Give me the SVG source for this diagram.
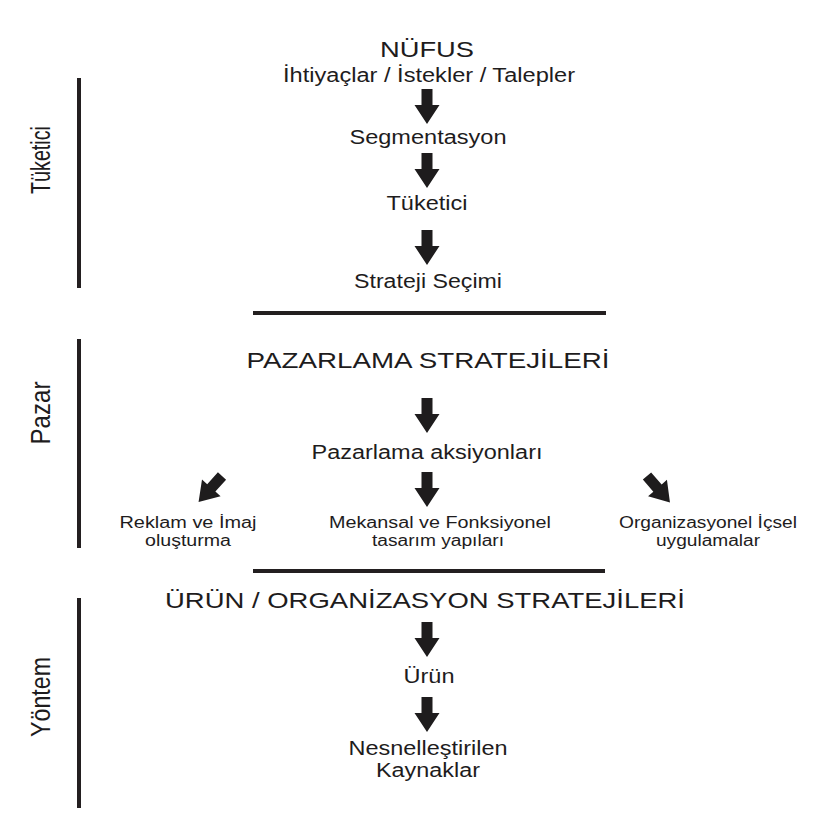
<svg xmlns="http://www.w3.org/2000/svg" xmlns:xlink="http://www.w3.org/1999/xlink" width="838" height="835" viewBox="0 0 838 835">
<style>
.t{font-family:"Liberation Sans",Arial,sans-serif;fill:#1e1c1d;text-anchor:middle}
.h{font-size:22.5px}
.b{font-size:19.5px}
.s{font-size:16px}
.v{font-size:27px}
.bar{stroke:#231f20;stroke-width:4;fill:none}
.ar{fill:#1e1c1d}
</style>
<defs>
<path id="arr" d="M-5.5,0 H5.5 V16 H12.5 L0,35 L-12.5,16 H-5.5 Z"/>
</defs>
<rect width="838" height="835" fill="#ffffff"/>
<g id="section-bars">
<line class="bar" x1="79" y1="78" x2="79" y2="288"/>
<line class="bar" x1="79" y1="339" x2="79" y2="548"/>
<line class="bar" x1="79" y1="598" x2="79" y2="808"/>
<line class="bar" x1="253" y1="313" x2="606" y2="313"/>
<line class="bar" x1="253" y1="571" x2="605" y2="571"/>
</g>
<g id="label-tuketici"><text class="t v" transform="translate(50,160) rotate(-90)" textLength="68" lengthAdjust="spacingAndGlyphs">Tüketici</text></g>
<g id="label-pazar"><text class="t v" transform="translate(50,413) rotate(-90)" textLength="63" lengthAdjust="spacingAndGlyphs">Pazar</text></g>
<g id="label-yontem"><text class="t v" transform="translate(50,697) rotate(-90)" textLength="80" lengthAdjust="spacingAndGlyphs">Yöntem</text></g>
<g id="n-nufus">
<text class="t h" x="427" y="57" textLength="94" lengthAdjust="spacingAndGlyphs">NÜFUS</text>
<text class="t b" x="429" y="82" textLength="292" lengthAdjust="spacingAndGlyphs">İhtiyaçlar / İstekler / Talepler</text>
</g>
<g id="n-segmentasyon"><text class="t b" x="428" y="144" textLength="157" lengthAdjust="spacingAndGlyphs">Segmentasyon</text></g>
<g id="n-tuketici"><text class="t b" x="427" y="210" textLength="81" lengthAdjust="spacingAndGlyphs">Tüketici</text></g>
<g id="n-strateji"><text class="t b" x="428" y="288" textLength="148" lengthAdjust="spacingAndGlyphs">Strateji Seçimi</text></g>
<g id="n-pazarlama-stratejileri"><text class="t h" x="428" y="368" textLength="363" lengthAdjust="spacingAndGlyphs">PAZARLAMA STRATEJİLERİ</text></g>
<g id="n-pazarlama-aksiyonlari"><text class="t b" x="427" y="459" textLength="231" lengthAdjust="spacingAndGlyphs">Pazarlama aksiyonları</text></g>
<g id="n-reklam">
<text class="t s" x="188" y="528" textLength="137" lengthAdjust="spacingAndGlyphs">Reklam ve İmaj</text>
<text class="t s" x="188" y="546" textLength="86" lengthAdjust="spacingAndGlyphs">oluşturma</text>
</g>
<g id="n-mekansal">
<text class="t s" x="440" y="528" textLength="222" lengthAdjust="spacingAndGlyphs">Mekansal ve Fonksiyonel</text>
<text class="t s" x="438" y="546" textLength="132" lengthAdjust="spacingAndGlyphs">tasarım yapıları</text>
</g>
<g id="n-organizasyonel">
<text class="t s" x="708" y="528" textLength="178" lengthAdjust="spacingAndGlyphs">Organizasyonel İçsel</text>
<text class="t s" x="708" y="546" textLength="104" lengthAdjust="spacingAndGlyphs">uygulamalar</text>
</g>
<g id="n-urun-org"><text class="t h" x="425" y="608" textLength="520" lengthAdjust="spacingAndGlyphs">ÜRÜN / ORGANİZASYON STRATEJİLERİ</text></g>
<g id="n-urun"><text class="t b" x="429" y="683" textLength="51" lengthAdjust="spacingAndGlyphs">Ürün</text></g>
<g id="n-nesnel">
<text class="t b" x="428" y="755" textLength="159" lengthAdjust="spacingAndGlyphs">Nesnelleştirilen</text>
<text class="t b" x="428" y="777" textLength="104" lengthAdjust="spacingAndGlyphs">Kaynaklar</text>
</g>
<g id="connectors" class="ar">
<use xlink:href="#arr" transform="translate(427,89)"/>
<use xlink:href="#arr" transform="translate(427,153)"/>
<use xlink:href="#arr" transform="translate(427,230)"/>
<use xlink:href="#arr" transform="translate(427,398)"/>
<use xlink:href="#arr" transform="translate(427,472)"/>
<use xlink:href="#arr" transform="translate(427,622)"/>
<use xlink:href="#arr" transform="translate(427,697)"/>
<use xlink:href="#arr" transform="translate(222,476) rotate(42)"/>
<use xlink:href="#arr" transform="translate(647,476) rotate(-41)"/>
</g>
</svg>
